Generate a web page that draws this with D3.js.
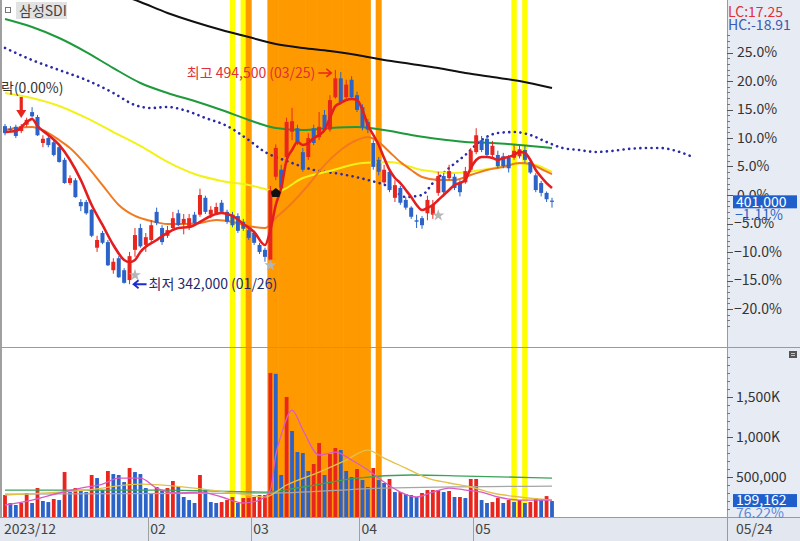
<!DOCTYPE html>
<html><head><meta charset="utf-8">
<script src="https://cdn.jsdelivr.net/npm/d3@7"></script>
<style>
body{margin:0;background:#fff;}
svg{display:block;}
text{font-family:"Noto Sans CJK KR","Noto Sans",sans-serif;}
</style>
</head><body>
<svg id="c" width="800" height="541"></svg>
<script>
// ---------------- DATA (prices in 1,000 KRW, volume in 1,000 shares) ----------------
const stockName = "삼성SDI";
const basePrice = 405.5; // 0.00% reference
const dates = ["12/21","12/22","12/26","12/27","12/28",
 "01/02","01/03","01/04","01/05","01/08","01/09","01/10","01/11","01/12","01/15","01/16","01/17","01/18","01/19","01/22","01/23","01/24","01/25","01/26","01/29","01/30","01/31",
 "02/01","02/02","02/05","02/06","02/07","02/08","02/13","02/14","02/15","02/16","02/19","02/20","02/21","02/22","02/23","02/26","02/27","02/28","02/29",
 "03/04","03/05","03/06","03/07","03/08","03/11","03/12","03/13","03/14","03/15","03/18","03/19","03/20","03/21","03/22","03/25","03/26","03/27","03/28","03/29",
 "04/01","04/02","04/03","04/04","04/05","04/08","04/09","04/11","04/12","04/15","04/16","04/17","04/18","04/19","04/22","04/23","04/24","04/25","04/26","04/29","04/30",
 "05/02","05/03","05/07","05/08","05/09","05/10","05/13","05/14","05/16","05/17","05/20","05/21","05/22","05/23","05/24"];
const openP = [454.5,452.5,454.0,451.0,455.5,464.5,461.0,442.5,446.0,443.0,439.5,430.5,414.0,416.0,400.5,400.5,395.0,368.0,378.5,372.0,352.0,360.5,352.0,345.0,366.5,382.0,370.0,
 373.5,393.5,382.0,376.5,382.0,392.5,385.0,383.5,391.5,391.5,403.5,391.5,392.5,400.0,393.5,391.5,390.5,386.5,380.5,
 378.5,370.0,366.5,359.5,418.5,423.5,432.5,450.5,453.0,436.0,432.5,453.0,446.5,462.5,452.0,475.0,488.5,475.0,487.5,476.5,
 468.0,457.5,442.5,430.5,414.5,422.0,403.5,410.5,402.0,396.5,387.5,389.0,392.5,391.5,407.0,419.0,417.5,418.5,414.0,414.5,423.5,
 436.0,444.5,445.5,434.0,434.0,433.0,432.0,432.0,433.0,437.5,429.0,419.5,414.0,407.0,401.5];
const highP = [456.0,454.5,455.5,456.0,460.5,468.0,462.5,448.0,447.5,444.5,441.0,432.0,419.5,417.5,402.5,402.0,395.5,376.5,380.0,373.5,360.5,362.0,353.5,365.0,382.0,385.0,378.5,
 387.5,396.5,384.0,383.5,393.5,395.0,392.0,392.0,393.5,410.0,405.0,397.5,400.0,402.0,395.0,393.5,392.5,388.5,382.0,
 380.0,371.5,368.0,412.0,441.5,427.0,460.5,467.5,455.5,439.0,449.5,455.5,464.5,466.0,476.5,494.5,493.0,487.5,490.0,479.0,
 470.0,459.5,444.5,432.5,427.0,424.5,416.0,412.0,404.0,397.5,391.5,390.5,405.0,402.0,422.0,421.0,427.0,420.5,416.0,425.5,439.0,
 453.0,447.5,447.5,444.0,437.0,435.5,434.0,441.0,441.0,441.0,430.5,421.0,415.5,408.0,403.5];
const lowP = [448.0,450.5,446.0,449.5,454.0,460.5,447.5,439.5,439.5,433.0,428.5,413.5,412.5,403.5,394.0,391.5,375.5,365.0,370.5,355.0,349.5,346.5,342.5,342.0,361.5,368.0,365.0,
 372.0,384.0,370.0,375.0,380.5,383.5,377.5,380.5,384.0,390.0,392.0,389.0,391.5,392.0,385.0,382.5,378.5,380.0,373.5,
 370.0,363.5,358.0,356.5,416.0,409.0,427.0,444.5,441.0,422.0,430.5,441.0,444.5,450.5,450.5,474.0,470.0,473.0,474.0,464.5,
 451.5,449.5,423.5,419.5,413.5,407.5,400.5,398.5,395.0,388.5,382.0,381.5,387.5,388.5,405.0,405.5,416.0,409.0,404.5,413.5,422.0,
 434.5,436.0,432.5,432.5,424.5,424.5,421.5,430.5,431.5,428.5,420.5,407.5,404.5,400.5,396.5];
const closeP = [449.5,452.0,447.5,454.5,459.0,461.5,448.0,445.5,441.0,434.0,429.0,414.0,417.5,404.0,397.5,392.5,376.5,373.5,371.5,355.5,358.0,347.0,343.0,362.0,377.0,369.0,375.5,
 384.0,385.5,372.0,380.5,389.0,384.0,388.5,389.0,385.5,405.5,393.5,395.0,397.0,393.5,386.5,384.0,380.0,381.5,375.0,
 371.5,365.0,361.5,409.0,439.0,410.5,457.5,458.0,443.0,423.5,446.0,442.5,454.0,452.0,473.0,488.5,471.5,484.0,475.0,466.0,
 454.0,452.0,425.5,422.0,423.5,409.0,412.5,400.0,396.5,390.0,386.5,384.0,402.0,398.5,419.0,407.5,422.5,410.5,407.5,422.5,437.0,
 448.0,437.5,434.0,440.5,426.0,426.0,424.5,437.0,438.0,430.5,421.5,409.0,407.0,402.5,401.0];
const volume = [275,175,150,175,300,175,362,200,187,225,212,562,312,362,337,312,525,487,337,575,537,525,437,612,562,537,362,
 300,375,325,362,450,375,250,212,175,525,337,187,175,187,212,250,175,237,237,
 250,275,275,1800,1790,525,1500,1075,812,800,575,662,925,525,787,862,837,575,500,600,
 462,375,612,462,425,475,312,312,287,275,250,300,337,337,337,312,325,250,250,237,475,
 475,212,175,187,237,175,212,187,212,175,187,237,212,261.3,199.162];

// highlighted days (indices into dates)
const yellowDays = [42, 44, 94, 96];
const orangeDays = [45,49,50,51,52,53,54,55,56,57,58,59,60,61,62,63,64,65,66,67,69];

// moving averages / indicator lines (index, value)
const ma5Idx = [0,2,4,5,6,8,10,12,14,16,18,20,22,23,24,25,28,30,32,34,36,38,40,42,44,46,48,49,50,51,
 52,53,54,55,56,57,58,59,60,61,62,63,64,65,66,67,68,69,70,71,72,73,74,75,76,77,78,79,80,81,82,83,84,85,86,87,88,89,90,91,92,93,94,95,96,97,98,99,100,101];
const ma5Val = [450.3,451.0,457.4,459.6,454.6,448.2,441.1,430.4,416.2,398.4,384.2,369.9,359.3,357.8,359.3,365.0,373.5,378.5,382.0,382.7,386.3,390.6,392.7,390.6,384.9,379.2,369.9,380.6,398.4,410.5,
 430.4,437.5,443.2,441.1,442.5,446.0,448.2,451.7,460.3,468.8,471.0,473.1,473.8,473.1,466.0,455.3,448.2,441.1,431.8,423.3,417.6,414.0,409.1,404.1,398.4,394.8,396.3,398.4,401.9,405.5,409.1,412.6,414.0,416.2,424.7,430.4,432.5,432.5,431.8,430.4,431.8,432.5,434.0,436.1,435.4,430.4,423.3,418.3,414.0,410.5];
const ma20Idx = [0,2,5,7,10,12,15,18,21,24,27,30,33,36,39,42,45,48,50,53,56,59,62,65,67,69,71,73,75,77,80,83,86,89,92,95,97,99,101];
const ma20Val = [451.7,453.2,453.9,451.7,444.6,438.9,426.8,412.6,398.4,390.6,387.0,384.9,384.9,385.6,387.7,386.3,383.4,382.0,389.1,399.8,412.6,426.8,437.5,444.6,446.8,443.2,436.1,429.0,423.3,418.3,416.2,416.2,419.7,423.3,425.4,428.3,427.5,424.0,420.4];
const ma60Idx = [0,5,10,15,20,25,30,35,40,45,48,50,55,60,66,71,77,83,88,94,96,101];
const ma60Val = [478.1,474.5,468.8,460.3,450.3,440.4,429.0,420.4,415.5,412.6,409.8,407.6,417.6,422.6,428.3,429.0,423.3,421.2,423.3,427.5,428.3,421.9];
const ma120Idx = [0,5,10,15,20,25,30,35,40,45,50,55,60,65,70,75,80,85,90,95,101];
const ma120Val = [530.7,525.0,517.2,507.2,495.8,485.2,478.1,472.4,466.0,458.9,453.2,451.7,453.2,453.9,451.7,448.2,445.3,443.2,442.5,441.1,438.9];
const ma240Idx = [20,25,30,35,40,45,50,55,60,65,70,75,80,85,90,95,101];
const ma240Val = [549.9,542.8,535.0,528.6,522.9,517.9,512.9,510.1,507.9,505.1,501.5,498.7,495.8,492.3,489.4,486.6,481.6];
const spanIdx = [0,5,10,15,20,24,27,30,33,37,41,45,48,52,57,62,67,71,74,77,79,82,85,88,91,94,97,100,103,106,109,112,115,118,121,124,127];
const spanVal = [510.1,501.5,494.4,487.3,478.1,469.5,467.4,468.1,466.0,460.3,454.6,444.6,436.1,429.7,423.3,420.4,416.2,411.2,404.1,405.5,414.0,424.7,434.0,444.6,449.6,450.3,448.2,443.2,438.9,437.5,436.1,436.8,438.2,438.9,438.9,436.8,432.5];

// volume moving averages
const vma5Idx = [0,5,10,14,18,21,25,28,32,36,40,44,47,49,50,51,53,55,58,61,64,67,70,73,76,79,82,85,88,91,95,101];
const vma5Val = [150,212,300,362,412,487,487,362,300,312,250,175,212,337,775,1025,1337,1087,775,812,712,587,437,312,250,312,362,337,312,250,212,212];
const vma20Idx = [0,15,25,35,45,48,52,58,63,67,70,74,78,82,86,90,95,101];
const vma20Val = [275,337,412,362,275,250,400,562,712,837,737,612,487,425,375,300,250,212];
const vma60Idx = [0,30,48,55,65,75,85,101];
const vma60Val = [337,337,312,375,487,525,512,487];
const vma120Idx = [0,50,70,101];
const vma120Val = [287,300,362,387];

const pctTicks = [25,20,15,10,5,0,-5,-10,-15,-20];
const volTicks = [1500,1000,500];
const volTickLabels = ["1,500K","1,000K","500,000"];
const monthStarts = [0, 27, 46, 66, 87];
const monthLabels = ["2023/12","02","03","04","05"];
const lastDateLabel = "05/24";

// ---------------- DRAWING ----------------
const RED = "#e8261e", BLUE = "#2b63c9";
const svg = d3.select("#c");
const W = 800, H = 541, axX = 727, pBot = 347, vTop = 348, vBot = 517;
const n = dates.length;

const x = d3.scaleLinear().domain([0, n - 1]).range([5, 552]);
const yP = d3.scaleLinear().domain([basePrice * 0.80, basePrice * 1.25]).range([309, 52.5]);
const yV = d3.scaleLinear().domain([0, 1500]).range([vBot, 397]);

const defs = svg.append("defs");
defs.append("clipPath").attr("id", "clipP").append("rect").attr("x", 2).attr("y", 0).attr("width", axX - 2).attr("height", pBot);
defs.append("clipPath").attr("id", "clipV").append("rect").attr("x", 2).attr("y", vTop).attr("width", axX - 2).attr("height", vBot - vTop);

svg.append("rect").attr("width", W).attr("height", H).attr("fill", "#fff");
svg.append("rect").attr("x", axX).attr("y", 0).attr("width", W - axX).attr("height", vBot).attr("fill", "#e7ebf4");
svg.append("rect").attr("x", 0).attr("y", vBot).attr("width", W).attr("height", H - vBot).attr("fill", "#e3e7ef");

// highlight bands
const bands = svg.append("g");
const bw = x(1) - x(0);
bands.selectAll("rect.y").data(yellowDays).join("rect")
  .attr("x", d => x(d) - bw / 2).attr("y", 0).attr("width", bw).attr("height", vBot).attr("fill", "#ffff00");
bands.selectAll("rect.o").data(orangeDays).join("rect")
  .attr("x", d => x(d) - bw / 2 - 0.3).attr("y", 0).attr("width", bw + 0.6).attr("height", vBot).attr("fill", "#ff9900");

// price panel
const gP = svg.append("g").attr("clip-path", "url(#clipP)");
const lineP = d3.line().x(d => x(d[0])).y(d => yP(d[1])).curve(d3.curveMonotoneX);
function drawLine(g, idx, val, color, width, dash, gen, cap) {
  g.append("path").datum(d3.zip(idx, val)).attr("d", gen).attr("fill", "none")
    .attr("stroke", color).attr("stroke-width", width).attr("stroke-dasharray", dash || null)
    .attr("stroke-linecap", cap || "butt")
    .attr("stroke-linejoin", "round");
}
drawLine(gP, ma240Idx, ma240Val, "#111", 2, null, lineP);
drawLine(gP, ma120Idx, ma120Val, "#1e9a3c", 2, null, lineP);
drawLine(gP, spanIdx, spanVal, "#2a2aa8", 2.6, "0.1,5.5", lineP, "round");
drawLine(gP, ma60Idx, ma60Val, "#f2f21a", 2, null, lineP);
drawLine(gP, ma20Idx, ma20Val, "#f27a1e", 2, null, lineP);

const idxs = d3.range(n);
const cw = 4;
gP.selectAll("line.wick").data(idxs).join("line")
  .attr("x1", i => x(i)).attr("x2", i => x(i))
  .attr("y1", i => yP(highP[i])).attr("y2", i => yP(lowP[i]))
  .attr("stroke", i => closeP[i] >= openP[i] ? RED : BLUE).attr("stroke-width", 1);
gP.selectAll("rect.body").data(idxs).join("rect")
  .attr("x", i => x(i) - cw / 2)
  .attr("y", i => yP(Math.max(openP[i], closeP[i])))
  .attr("width", cw)
  .attr("height", i => Math.max(1.2, yP(Math.min(openP[i], closeP[i])) - yP(Math.max(openP[i], closeP[i]))))
  .attr("fill", i => closeP[i] >= openP[i] ? RED : BLUE);

drawLine(gP, ma5Idx, ma5Val, "#e41e1e", 2.6, null, lineP);

// markers
const star = d3.symbol().type(d3.symbolStar).size(45);
const starIdx = [24, 49, 80], starVal = [348.5, 355.5, 391.0];
gP.selectAll("path.star").data(d3.zip(starIdx, starVal)).join("path")
  .attr("d", star).attr("transform", d => `translate(${x(d[0])},${yP(d[1])})`).attr("fill", "#b5b5b5");
// black pentagon at breakout
const pentIdx = 50, pentVal = 406.9;
gP.append("path").attr("d", "M0,-5 L5,-1 L3.5,4 L-3.5,4 L-5,-1 Z")
  .attr("transform", `translate(${x(pentIdx)},${yP(pentVal)})`).attr("fill", "#111");
// red reference arrow
const refIdx = 3, refTip = 460.3;
{
  const ax = x(refIdx), ty = yP(refTip);
  gP.append("path").attr("d", `M${ax - 1.6},${ty - 21} L${ax + 1.6},${ty - 21} L${ax + 1.6},${ty - 8} L${ax + 5},${ty - 8} L${ax},${ty} L${ax - 5},${ty - 8} L${ax - 1.6},${ty - 8} Z`).attr("fill", "#e8261e");
}
gP.append("text").attr("x", 1).attr("y", 93).attr("font-size", 14).attr("fill", "#333").text("락(0.00%)");

// high / low annotations
const hiI = d3.maxIndex(highP), loI = d3.minIndex(lowP);
const fmt = d3.format(",");
{
  const hx = x(hiI) - 3, hy = yP(highP[hiI]) + 3;
  gP.append("path").attr("d", `M${hx - 14},${hy} L${hx - 1},${hy} M${hx - 6},${hy - 4} L${hx - 1},${hy} L${hx - 6},${hy + 4}`)
    .attr("stroke", "#e8261e").attr("stroke-width", 1.5).attr("fill", "none");
  gP.append("text").attr("x", hx - 17).attr("y", hy).attr("dy", "0.35em").attr("text-anchor", "end")
    .attr("font-size", 14).attr("fill", "#e0303a").text(`최고 ${fmt(highP[hiI] * 1000)} (${dates[hiI]})`);
  const lx = x(loI) + 4, ly = yP(lowP[loI]);
  gP.append("path").attr("d", `M${lx},${ly} L${lx + 13},${ly} M${lx + 5},${ly - 4} L${lx},${ly} L${lx + 5},${ly + 4}`)
    .attr("stroke", "#1a2bd0").attr("stroke-width", 1.8).attr("fill", "none");
  gP.append("text").attr("x", lx + 15).attr("y", ly).attr("dy", "0.35em")
    .attr("font-size", 14).attr("fill", "#1f2a6e").text(`최저 ${fmt(lowP[loI] * 1000)} (${dates[loI]})`);
}

// volume panel
const gV = svg.append("g").attr("clip-path", "url(#clipV)");
gV.selectAll("rect.vol").data(idxs).join("rect")
  .attr("x", i => x(i) - 1.9).attr("y", i => yV(volume[i])).attr("width", 3.8)
  .attr("height", i => vBot - yV(volume[i]))
  .attr("fill", i => (i === 0 || volume[i] >= volume[i - 1]) ? RED : BLUE);
const lineV = d3.line().x(d => x(d[0])).y(d => yV(d[1])).curve(d3.curveMonotoneX);
drawLine(gV, vma120Idx, vma120Val, "#a6a6a6", 1.3, null, lineV);
drawLine(gV, vma60Idx, vma60Val, "#3aa35a", 1.3, null, lineV);
drawLine(gV, vma20Idx, vma20Val, "#e2c04a", 1.3, null, lineV);
drawLine(gV, vma5Idx, vma5Val, "#d85cc4", 1.3, null, lineV);

// frames
svg.append("line").attr("x1", 0).attr("x2", W).attr("y1", pBot + 0.5).attr("y2", pBot + 0.5).attr("stroke", "#9a9a9a");
svg.append("line").attr("x1", 0).attr("x2", W).attr("y1", vBot + 0.5).attr("y2", vBot + 0.5).attr("stroke", "#9a9a9a");
svg.append("line").attr("x1", axX + 0.5).attr("x2", axX + 0.5).attr("y1", 0).attr("y2", H).attr("stroke", "#9a9a9a");
svg.append("line").attr("x1", 1).attr("x2", 1).attr("y1", 0).attr("y2", vBot).attr("stroke", "#a0a0a0").attr("stroke-width", 2);

// price axis
const pctY = p => yP(basePrice * (1 + p / 100));
const ax = svg.append("g");
ax.selectAll("line.mn").data(d3.range(-23, 29)).join("line")
  .attr("x1", axX).attr("x2", axX + 3).attr("y1", p => Math.round(pctY(p)) + 0.5).attr("y2", p => Math.round(pctY(p)) + 0.5).attr("stroke", "#777");
ax.selectAll("line.mj").data(pctTicks).join("line")
  .attr("x1", axX).attr("x2", axX + 6).attr("y1", p => Math.round(pctY(p)) + 0.5).attr("y2", p => Math.round(pctY(p)) + 0.5).attr("stroke", "#555");
ax.selectAll("text.pt").data(pctTicks).join("text")
  .attr("x", p => p < 0 ? axX + 7 : axX + 10).attr("y", p => pctY(p)).attr("dy", "0.35em")
  .attr("font-size", 14).attr("fill", "#333").text(p => d3.format(".1f")(p) + "%");

// LC / HC
const last = closeP[n - 1];
const lc = (last / d3.min(lowP) - 1) * 100, hc = (last / d3.max(highP) - 1) * 100;
svg.append("text").attr("x", axX + 1).attr("y", 12).attr("dy", "0.35em").attr("font-size", 14).attr("fill", "#e0303a").text("LC:" + lc.toFixed(2));
svg.append("text").attr("x", axX + 1).attr("y", 25).attr("dy", "0.35em").attr("font-size", 14).attr("fill", "#3a5bb0").text("HC:" + hc.toFixed(2));

// last price box
{
  const ly = yP(last);
  svg.append("rect").attr("x", axX + 6).attr("y", ly - 6).attr("width", 64).attr("height", 13).attr("fill", "#1f5fcc");
  svg.append("text").attr("x", axX + 9).attr("y", ly + 0.5).attr("dy", "0.35em").attr("font-size", 14).attr("fill", "#fff").text(fmt(last * 1000));
  svg.append("text").attr("x", axX + 8).attr("y", ly + 14).attr("dy", "0.35em").attr("font-size", 14).attr("fill", "#2b63c9")
    .text(d3.format(".2f")((last / basePrice - 1) * 100) + "%");
}

// volume axis
ax.selectAll("line.vmn").data(d3.range(100, 2100, 100)).join("line")
  .attr("x1", axX).attr("x2", axX + 3).attr("y1", v => Math.round(yV(v)) + 0.5).attr("y2", v => Math.round(yV(v)) + 0.5).attr("stroke", "#777")
  .attr("display", v => yV(v) < vTop + 4 ? "none" : null);
ax.selectAll("line.vmj").data(volTicks).join("line")
  .attr("x1", axX).attr("x2", axX + 6).attr("y1", v => Math.round(yV(v)) + 0.5).attr("y2", v => Math.round(yV(v)) + 0.5).attr("stroke", "#555");
ax.selectAll("text.vt").data(volTicks).join("text")
  .attr("x", axX + 9).attr("y", v => yV(v)).attr("dy", "0.35em").attr("font-size", 14).attr("fill", "#333")
  .text((v, k) => volTickLabels[k]);
{
  const lv = volume[n - 1], vy = yV(lv);
  svg.append("rect").attr("x", axX + 6).attr("y", vy - 7).attr("width", 64).attr("height", 13).attr("fill", "#1f5fcc");
  svg.append("text").attr("x", axX + 9).attr("y", vy - 0.5).attr("dy", "0.35em").attr("font-size", 14).attr("fill", "#fff").text(fmt(Math.round(lv * 1000)));
  svg.append("text").attr("x", axX + 9).attr("y", vy + 12).attr("dy", "0.35em").attr("font-size", 14).attr("fill", "#5a86d6")
    .text(d3.format(".2f")(lv / volume[n - 2] * 100) + "%");
}
// small icon at top-right of volume panel
svg.append("rect").attr("x", 789).attr("y", 351).attr("width", 8).attr("height", 7).attr("fill", "#555");
svg.append("path").attr("d", "M791,353.5 H795 M791,355.5 H795").attr("stroke", "#ddd").attr("stroke-width", 0.8);

// date axis
const da = svg.append("g");
da.selectAll("line.sep").data(monthStarts.slice(1)).join("line")
  .attr("x1", i => Math.round(x(i)) - 2.5).attr("x2", i => Math.round(x(i)) - 2.5).attr("y1", vBot).attr("y2", H).attr("stroke", "#a0a0a0");
da.selectAll("text.m").data(monthStarts).join("text")
  .attr("x", (i, k) => k === 0 ? 4 : x(i) - 1).attr("y", 529).attr("dy", "0.35em")
  .attr("font-size", 14).attr("fill", "#444").text((i, k) => monthLabels[k]);
svg.append("text").attr("x", axX + 9).attr("y", 529).attr("dy", "0.35em").attr("font-size", 14).attr("fill", "#444").text(lastDateLabel);

// title tag
svg.append("rect").attr("x", 16).attr("y", 2).attr("width", 51).attr("height", 17).attr("fill", "#e2e2e2");
svg.append("rect").attr("x", 5.5).attr("y", 7.5).attr("width", 5).attr("height", 5).attr("fill", "none").attr("stroke", "#777");
svg.append("text").attr("x", 19).attr("y", 11).attr("dy", "0.35em").attr("font-size", 14).attr("fill", "#444").text(stockName);
</script>
</body></html>
